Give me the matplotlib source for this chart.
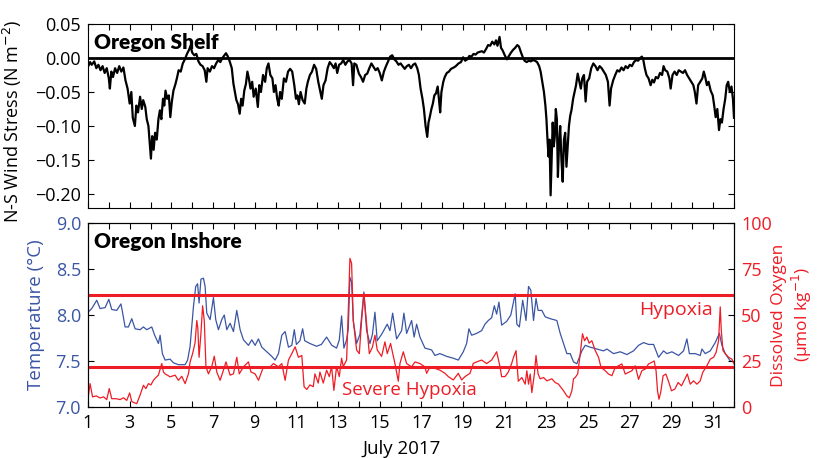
import matplotlib
matplotlib.use("Agg")
import matplotlib.pyplot as plt
import numpy as np

plt.rcParams['font.family'] = ['Open Sans', 'DejaVu Sans']

BLUE = '#3b55a5'
RED = '#ee1c25'

# N-S wind stress, Oregon shelf (day of July, N m-2)
stress_day = [1.00, 1.10, 1.18, 1.30, 1.40, 1.50, 1.60, 1.70, 1.80, 1.90, 2.00, 2.05, 2.12, 2.20, 2.30, 2.40,
              2.50, 2.60, 2.70, 2.80, 2.90, 3.00, 3.08, 3.15, 3.25, 3.32, 3.40, 3.50, 3.58, 3.65, 3.75, 3.82,
              3.90, 3.96, 4.02, 4.08, 4.15, 4.22, 4.30, 4.38, 4.45, 4.52, 4.60, 4.66, 4.72, 4.80, 4.88, 4.95,
              5.02, 5.10, 5.20, 5.28, 5.35, 5.45, 5.55, 5.65, 5.75, 5.85, 5.92, 6.00, 6.10, 6.20, 6.30, 6.40,
              6.50, 6.60, 6.68, 6.74, 6.85, 6.95, 7.05, 7.15, 7.25, 7.35, 7.45, 7.55, 7.62, 7.70, 7.80, 7.90,
              7.98, 8.05, 8.12, 8.20, 8.28, 8.35, 8.42, 8.50, 8.58, 8.65, 8.72, 8.80, 8.88, 8.95, 9.05, 9.15,
              9.22, 9.30, 9.40, 9.50, 9.58, 9.66, 9.75, 9.85, 9.92, 10.00, 10.08, 10.15, 10.22, 10.30, 10.40,
              10.50, 10.60, 10.70, 10.80, 10.90, 10.98, 11.05, 11.12, 11.20, 11.30, 11.40, 11.48, 11.55, 11.65,
              11.75, 11.85, 11.95, 12.05, 12.15, 12.22, 12.30, 12.40, 12.50, 12.60, 12.70, 12.80, 12.88, 12.96,
              13.05, 13.15, 13.25, 13.35, 13.45, 13.55, 13.65, 13.72, 13.78, 13.88, 14.00, 14.10, 14.20, 14.30,
              14.40, 14.50, 14.60, 14.70, 14.80, 14.90, 15.00, 15.10, 15.20, 15.30, 15.40, 15.50, 15.60, 15.70,
              15.80, 15.90, 16.00, 16.10, 16.20, 16.30, 16.40, 16.50, 16.60, 16.70, 16.80, 16.88, 16.96, 17.05,
              17.12, 17.20, 17.28, 17.34, 17.40, 17.48, 17.55, 17.62, 17.70, 17.78, 17.84, 17.90, 17.96, 18.05,
              18.12, 18.22, 18.32, 18.42, 18.55, 18.65, 18.78, 18.90, 19.00, 19.10, 19.20, 19.30, 19.40, 19.50,
              19.60, 19.70, 19.80, 19.90, 20.00, 20.10, 20.20, 20.30, 20.40, 20.50, 20.58, 20.65, 20.75, 20.82,
              20.90, 21.00, 21.10, 21.20, 21.30, 21.40, 21.50, 21.60, 21.68, 21.78, 21.88, 21.95, 22.05, 22.15,
              22.25, 22.35, 22.45, 22.55, 22.65, 22.72, 22.80, 22.88, 22.95, 23.00, 23.05, 23.10, 23.15, 23.20,
              23.25, 23.30, 23.35, 23.40, 23.45, 23.50, 23.55, 23.60, 23.66, 23.72, 23.78, 23.84, 23.90, 23.96,
              24.02, 24.08, 24.14, 24.20, 24.28, 24.35, 24.42, 24.50, 24.58, 24.65, 24.72, 24.80, 24.88, 24.95,
              25.05, 25.15, 25.25, 25.35, 25.45, 25.55, 25.65, 25.75, 25.85, 25.95, 26.03, 26.10, 26.20, 26.30,
              26.40, 26.50, 26.60, 26.70, 26.80, 26.90, 27.00, 27.10, 27.20, 27.30, 27.40, 27.50, 27.58, 27.65,
              27.72, 27.80, 27.90, 28.00, 28.08, 28.16, 28.25, 28.35, 28.45, 28.55, 28.62, 28.70, 28.80, 28.90,
              28.96, 29.05, 29.15, 29.25, 29.35, 29.45, 29.55, 29.65, 29.75, 29.85, 29.95, 30.05, 30.12, 30.20,
              30.28, 30.38, 30.48, 30.55, 30.62, 30.70, 30.78, 30.88, 30.98, 31.05, 31.12, 31.20, 31.28, 31.35,
              31.42, 31.50, 31.58, 31.65, 31.72, 31.80, 31.88, 31.95, 32.00]
stress_val = [-0.013, -0.006, -0.010, -0.005, -0.015, -0.010, -0.018, -0.012, -0.022, -0.015, -0.030, -0.045,
              -0.020, -0.028, -0.015, -0.022, -0.012, -0.020, -0.014, -0.033, -0.045, -0.067, -0.050, -0.088,
              -0.100, -0.070, -0.080, -0.057, -0.075, -0.062, -0.072, -0.090, -0.100, -0.125, -0.148, -0.115,
              -0.135, -0.110, -0.120, -0.090, -0.077, -0.090, -0.060, -0.070, -0.048, -0.060, -0.055, -0.087,
              -0.065, -0.048, -0.038, -0.028, -0.018, -0.020, -0.008, -0.002, 0.006, 0.012, 0.018, 0.008,
              0.004, 0.006, -0.005, -0.010, -0.012, -0.018, -0.035, -0.015, -0.020, -0.012, -0.015, -0.008,
              -0.003, -0.006, 0.000, 0.004, 0.007, 0.003, -0.005, -0.015, -0.038, -0.050, -0.062, -0.068,
              -0.082, -0.060, -0.070, -0.048, -0.038, -0.020, -0.030, -0.045, -0.035, -0.057, -0.045, -0.072,
              -0.040, -0.050, -0.025, -0.035, -0.015, -0.008, -0.025, -0.030, -0.050, -0.040, -0.060, -0.070,
              -0.050, -0.060, -0.030, -0.035, -0.020, -0.016, -0.020, -0.040, -0.060, -0.055, -0.068, -0.050,
              -0.062, -0.067, -0.045, -0.035, -0.025, -0.020, -0.010, -0.016, -0.035, -0.050, -0.060, -0.040,
              -0.033, -0.015, -0.006, -0.010, -0.015, -0.008, -0.022, -0.010, -0.008, -0.003, -0.010, -0.005,
              -0.003, -0.008, -0.040, -0.008, -0.010, -0.023, -0.028, -0.035, -0.025, -0.023, -0.015, -0.008,
              -0.013, -0.018, -0.015, -0.022, -0.033, -0.020, -0.012, -0.005, 0.002, 0.004, -0.002, -0.005,
              -0.010, -0.008, -0.012, -0.016, -0.012, -0.010, -0.015, -0.010, -0.008, -0.015, -0.025, -0.045,
              -0.060, -0.075, -0.100, -0.116, -0.095, -0.087, -0.075, -0.067, -0.055, -0.052, -0.042, -0.060,
              -0.080, -0.050, -0.035, -0.028, -0.022, -0.020, -0.016, -0.014, -0.012, -0.008, -0.006, 0.001,
              -0.004, -0.002, 0.003, 0.002, 0.006, 0.005, 0.008, 0.009, 0.010, 0.008, 0.013, 0.019, 0.018,
              0.024, 0.020, 0.026, 0.018, 0.031, 0.015, 0.011, 0.004, -0.002, 0.003, 0.008, 0.012, 0.015,
              0.019, 0.017, 0.008, 0.000, -0.004, -0.006, -0.004, -0.005, -0.003, -0.004, -0.006, -0.012,
              -0.020, -0.035, -0.050, -0.070, -0.090, -0.120, -0.145, -0.120, -0.202, -0.150, -0.095, -0.130,
              -0.116, -0.075, -0.090, -0.175, -0.130, -0.100, -0.150, -0.182, -0.120, -0.110, -0.160, -0.130,
              -0.100, -0.085, -0.077, -0.060, -0.050, -0.040, -0.023, -0.035, -0.045, -0.030, -0.025, -0.064,
              -0.035, -0.030, -0.015, -0.008, -0.012, -0.018, -0.012, -0.015, -0.020, -0.025, -0.035, -0.070,
              -0.045, -0.033, -0.025, -0.018, -0.020, -0.014, -0.018, -0.012, -0.015, -0.010, -0.012, -0.006,
              -0.003, -0.004, 0.000, 0.002, -0.003, -0.015, -0.025, -0.030, -0.040, -0.032, -0.036, -0.028,
              -0.030, -0.022, -0.025, -0.012, -0.018, -0.020, -0.030, -0.045, -0.025, -0.020, -0.025, -0.018,
              -0.020, -0.022, -0.018, -0.025, -0.030, -0.035, -0.040, -0.050, -0.067, -0.040, -0.035, -0.030,
              -0.020, -0.028, -0.040, -0.035, -0.048, -0.055, -0.070, -0.087, -0.075, -0.106, -0.090, -0.095,
              -0.075, -0.060, -0.040, -0.035, -0.050, -0.042, -0.060, -0.088]

# Oregon inshore temperature (deg C)
temp_day = [1.00, 1.18, 1.42, 1.58, 1.82, 2.00, 2.14, 2.38, 2.58, 2.65, 2.78, 2.94, 3.10, 3.26, 3.50, 3.66,
            3.82, 4.06, 4.20, 4.38, 4.46, 4.57, 4.70, 4.94, 5.10, 5.34, 5.66, 5.78, 5.90, 6.06, 6.17, 6.26,
            6.33, 6.42, 6.54, 6.62, 6.70, 6.86, 7.02, 7.13, 7.26, 7.42, 7.54, 7.66, 7.82, 7.98, 8.14, 8.30,
            8.46, 8.70, 8.86, 9.02, 9.18, 9.34, 9.58, 9.82, 9.98, 10.14, 10.30, 10.46, 10.62, 10.78, 10.90,
            11.00, 11.17, 11.30, 11.40, 11.65, 11.97, 12.20, 12.45, 12.70, 12.93, 13.06, 13.17, 13.28, 13.41,
            13.49, 13.57, 13.65, 13.73, 13.89, 14.05, 14.24, 14.37, 14.53, 14.65, 14.77, 14.88, 15.09, 15.36,
            15.49, 15.62, 15.81, 16.05, 16.16, 16.29, 16.53, 16.65, 16.77, 16.93, 17.17, 17.49, 17.65, 17.89,
            18.21, 18.53, 18.77, 19.01, 19.17, 19.28, 19.41, 19.65, 19.89, 20.05, 20.21, 20.37, 20.50, 20.61,
            20.72, 20.85, 21.09, 21.29, 21.50, 21.58, 21.70, 21.86, 22.02, 22.14, 22.25, 22.38, 22.50, 22.60,
            22.78, 22.94, 23.18, 23.50, 23.66, 23.82, 23.98, 24.14, 24.30, 24.46, 24.70, 24.86, 25.10, 25.42,
            25.74, 25.90, 26.22, 26.54, 26.86, 27.18, 27.42, 27.66, 27.90, 28.14, 28.38, 28.62, 28.78, 29.02,
            29.34, 29.58, 29.74, 29.86, 30.14, 30.38, 30.46, 30.62, 30.86, 31.10, 31.30, 31.42, 31.58, 31.82,
            32.00]
temp_val = [8.03, 8.07, 8.16, 8.07, 8.08, 8.17, 8.06, 8.05, 8.12, 8.04, 7.87, 7.87, 7.96, 7.85, 7.84, 7.87,
            7.84, 7.87, 7.78, 7.69, 7.78, 7.58, 7.51, 7.52, 7.48, 7.46, 7.46, 7.51, 7.66, 8.09, 8.31, 8.34,
            8.13, 8.39, 8.40, 8.31, 8.02, 7.95, 8.19, 7.95, 7.84, 7.95, 8.00, 7.84, 7.91, 7.82, 8.05, 7.84,
            7.73, 7.67, 7.73, 7.67, 7.74, 7.65, 7.60, 7.55, 7.51, 7.58, 7.78, 7.82, 7.65, 7.67, 7.84,
            7.68, 7.72, 7.85, 7.72, 7.69, 7.66, 7.68, 7.76, 7.67, 7.64, 7.73, 7.99, 7.64, 7.73,
            7.85, 8.41, 8.36, 7.94, 7.69, 7.79, 8.25, 7.83, 7.69, 7.79, 8.03, 7.72, 7.79, 7.90,
            7.83, 8.02, 7.74, 7.83, 8.02, 7.80, 7.94, 7.76, 7.90, 7.76, 7.64, 7.62, 7.56, 7.58,
            7.55, 7.53, 7.51, 7.60, 7.69, 7.85, 7.78, 7.80, 7.83, 7.90, 7.94, 7.97, 8.10, 8.01,
            8.14, 7.89, 7.93, 8.00, 8.23, 7.90, 7.87, 8.16, 7.94, 8.31, 8.27, 7.94, 8.18, 8.05,
            8.05, 7.98, 7.96, 7.94, 7.80, 7.69, 7.58, 7.58, 7.49, 7.47, 7.61, 7.67, 7.65, 7.63,
            7.61, 7.63, 7.58, 7.60, 7.57, 7.61, 7.67, 7.70, 7.68, 7.68, 7.54, 7.61, 7.58, 7.60,
            7.56, 7.61, 7.74, 7.58, 7.58, 7.56, 7.63, 7.58, 7.61, 7.70, 7.80, 7.67, 7.58, 7.50,
            7.49]

# Oregon inshore dissolved oxygen (umol kg-1)
oxy_day = [1.00, 1.10, 1.22, 1.40, 1.58, 1.75, 1.90, 2.02, 2.14, 2.35, 2.54, 2.70, 2.86, 3.00, 3.10, 3.18,
           3.34, 3.50, 3.66, 3.78, 3.90, 4.02, 4.14, 4.26, 4.38, 4.54, 4.62, 4.70, 4.94, 5.18, 5.34, 5.50,
           5.66, 5.82, 5.90, 6.02, 6.14, 6.22, 6.27, 6.33, 6.42, 6.50, 6.58, 6.66, 6.78, 6.94, 7.06, 7.18,
           7.34, 7.50, 7.62, 7.82, 7.98, 8.14, 8.26, 8.46, 8.70, 8.82, 9.02, 9.18, 9.42, 9.66, 9.90, 10.14,
           10.30, 10.46, 10.62, 10.78, 10.94, 11.10, 11.26, 11.37, 11.50, 11.65, 11.81, 11.89, 12.05, 12.13,
           12.29, 12.45, 12.58, 12.69, 12.80, 12.93, 13.06, 13.17, 13.25, 13.41, 13.49, 13.57, 13.65, 13.73,
           13.89, 14.02, 14.13, 14.24, 14.37, 14.50, 14.65, 14.77, 14.88, 15.09, 15.25, 15.36, 15.52, 15.73,
           15.89, 15.97, 16.13, 16.29, 16.53, 16.69, 16.93, 17.17, 17.25, 17.41, 17.65, 17.89, 18.13, 18.29,
           18.53, 18.77, 18.93, 19.09, 19.33, 19.49, 19.65, 19.89, 20.13, 20.37, 20.61, 20.77, 20.85, 21.01,
           21.17, 21.33, 21.42, 21.54, 21.65, 21.82, 21.98, 22.06, 22.14, 22.22, 22.30, 22.42, 22.50, 22.60,
           22.70, 22.86, 23.02, 23.26, 23.42, 23.58, 23.82, 23.98, 24.10, 24.22, 24.30, 24.38, 24.50, 24.62,
           24.73, 24.83, 24.94, 25.05, 25.18, 25.34, 25.50, 25.62, 25.82, 25.98, 26.14, 26.30, 26.46, 26.62,
           26.78, 26.94, 27.10, 27.26, 27.42, 27.58, 27.74, 27.90, 28.06, 28.17, 28.26, 28.33, 28.40, 28.48,
           28.60, 28.73, 28.85, 29.00, 29.16, 29.32, 29.48, 29.64, 29.76, 29.90, 30.06, 30.22, 30.38, 30.50,
           30.70, 30.86, 31.02, 31.14, 31.26, 31.34, 31.39, 31.47, 31.58, 31.74, 31.90, 32.00]
oxy_val = [4.5, 12.7, 5.5, 6.0, 4.9, 5.5, 4.0, 10.0, 4.5, 4.5, 4.0, 5.0, 3.6, 7.6, 3.0, 2.5,
           1.8, 6.5, 11.8, 10.0, 12.7, 12.0, 14.5, 16.0, 17.3, 23.6, 19.0, 18.0, 16.4, 17.3, 14.5, 16.7,
           12.7, 18.0, 24.5, 29.0, 35.0, 47.0, 43.0, 27.0, 40.0, 55.0, 47.0, 22.0, 18.0, 22.0, 27.6, 19.0,
           14.5, 20.0, 24.5, 17.3, 18.0, 27.0, 18.0, 21.8, 24.5, 19.0, 18.0, 14.5, 21.8, 20.9, 23.6, 21.8,
           23.6, 14.5, 25.5, 29.0, 32.7, 27.0, 28.0, 11.0, 9.5, 12.0, 11.0, 18.0, 13.0, 19.0,
           13.0, 20.0, 16.5, 22.0, 9.0, 22.0, 16.5, 26.5, 22.0, 25.5, 52.0, 80.8, 78.0, 47.0,
           31.0, 29.0, 47.0, 61.4, 45.0, 29.0, 32.5, 39.0, 31.0, 27.5, 35.4, 29.0, 34.5, 23.6,
           14.0, 23.6, 30.0, 23.6, 21.8, 24.5, 23.6, 21.8, 18.3, 21.8, 21.0, 20.0, 18.3, 16.5,
           14.7, 18.3, 14.7, 16.5, 18.3, 23.7, 24.5, 25.5, 23.6, 25.5, 30.0, 22.0, 16.5, 16.5,
           19.0, 23.6, 27.0, 30.6, 14.0, 16.0, 12.4, 19.7, 12.4, 17.9, 7.8, 17.9, 28.0, 17.9,
           15.3, 16.0, 14.2, 15.3, 13.3, 12.4, 8.8, 6.0, 5.0, 8.8, 15.3, 16.0, 18.0, 28.8,
           39.8, 36.0, 38.0, 34.7, 36.0, 30.7, 27.0, 21.5, 19.7, 17.9, 17.0, 21.5, 22.4, 23.4,
           17.9, 18.8, 19.7, 22.4, 15.0, 19.7, 20.6, 23.4, 24.3, 25.0, 19.7, 8.8, 4.2, 7.8,
           17.0, 17.9, 14.2, 8.8, 9.7, 13.3, 11.5, 15.1, 17.9, 12.4, 14.2, 12.4, 14.2, 18.8,
           22.4, 26.0, 27.0, 29.6, 36.0, 54.4, 41.6, 30.7, 29.0, 27.0, 26.0, 23.4]

hypoxia = 61
severe_hypoxia = 22

days = np.arange(1, 33)

fig = plt.figure(figsize=(8.17, 4.58), dpi=100)
ax1 = fig.add_axes([0.1077, 0.5459, 0.7907, 0.4017])
ax2 = fig.add_axes([0.1077, 0.1114, 0.7907, 0.4017])

tick_kw = dict(direction='in', length=4, width=0.8, labelsize=13, pad=5)

# --- top panel: wind stress
ax1.plot(stress_day, stress_val, color='black', lw=1.6)
ax1.axhline(0, color='black', lw=2)
ax1.set_xlim(1, 32)
ax1.set_ylim(-0.2206, 0.05)
ax1.set_yticks([0.05, 0.00, -0.05, -0.10, -0.15, -0.20])
ax1.set_yticklabels(['0.05', '0.00', '\u22120.05', '\u22120.10', '\u22120.15', '\u22120.20'])
ax1.set_xticks(days)
ax1.set_xticklabels([])
ax1.tick_params(axis='both', top=True, right=True, **tick_kw)
ax1.set_ylabel('N-S Wind Stress (N m$^{-2}$)', fontsize=13)
ax1.yaxis.set_label_coords(-0.099, 0.47)
ax1.text(0.009, 0.95, 'Oregon Shelf', transform=ax1.transAxes, ha='left', va='top',
         fontsize=15, fontweight='heavy', family=['Lato', 'DejaVu Sans'])

# --- bottom panel: temperature and oxygen
ax2.plot(temp_day, temp_val, color=BLUE, lw=0.9)
ax2.set_xlim(1, 32)
ax2.set_ylim(7.0, 9.0)
ax2.set_yticks([7.0, 7.5, 8.0, 8.5, 9.0])
ax2.set_xticks(days)
ax2.set_xticklabels([str(d) if d % 2 == 1 else '' for d in days])
ax2.tick_params(axis='x', top=True, **tick_kw)
ax2.tick_params(axis='y', labelcolor=BLUE, **tick_kw)
ax2.set_ylabel('Temperature (\u00b0C)', color=BLUE, fontsize=13.5)
ax2.yaxis.set_label_coords(-0.066, 0.5)
ax2.set_xlabel('July 2017', fontsize=13.5)
ax2.xaxis.set_label_coords(0.486, -0.178)

ax3 = ax2.twinx()
ax3.set_position(ax2.get_position())
ax3.axhline(hypoxia, color=RED, lw=2.2)
ax3.axhline(severe_hypoxia, color=RED, lw=2.2)
ax3.plot(oxy_day, oxy_val, color=RED, lw=0.9)
ax3.set_ylim(0, 100)
ax3.set_yticks([0, 25, 50, 75, 100])
ax3.tick_params(axis='y', labelcolor=RED, **tick_kw)
ax3.set_ylabel('Dissolved Oxygen\n(\u00b5mol kg$^{-1}$)', color=RED, fontsize=12.5,
               rotation=90, linespacing=1.15)
ax3.yaxis.set_label_coords(1.058, 0.5)
ax3.set_xlim(1, 32)

ax2.text(0.009, 0.95, 'Oregon Inshore', transform=ax2.transAxes, ha='left', va='top',
         fontsize=15, fontweight='heavy', family=['Lato', 'DejaVu Sans'])
ax3.text(30.97, 52.7, 'Hypoxia', color=RED, ha='right', va='center', fontsize=14)
ax3.text(16.4, 9.0, 'Severe Hypoxia', color=RED, ha='center', va='center', fontsize=13.5)

fig.savefig('out.png', dpi=100)
